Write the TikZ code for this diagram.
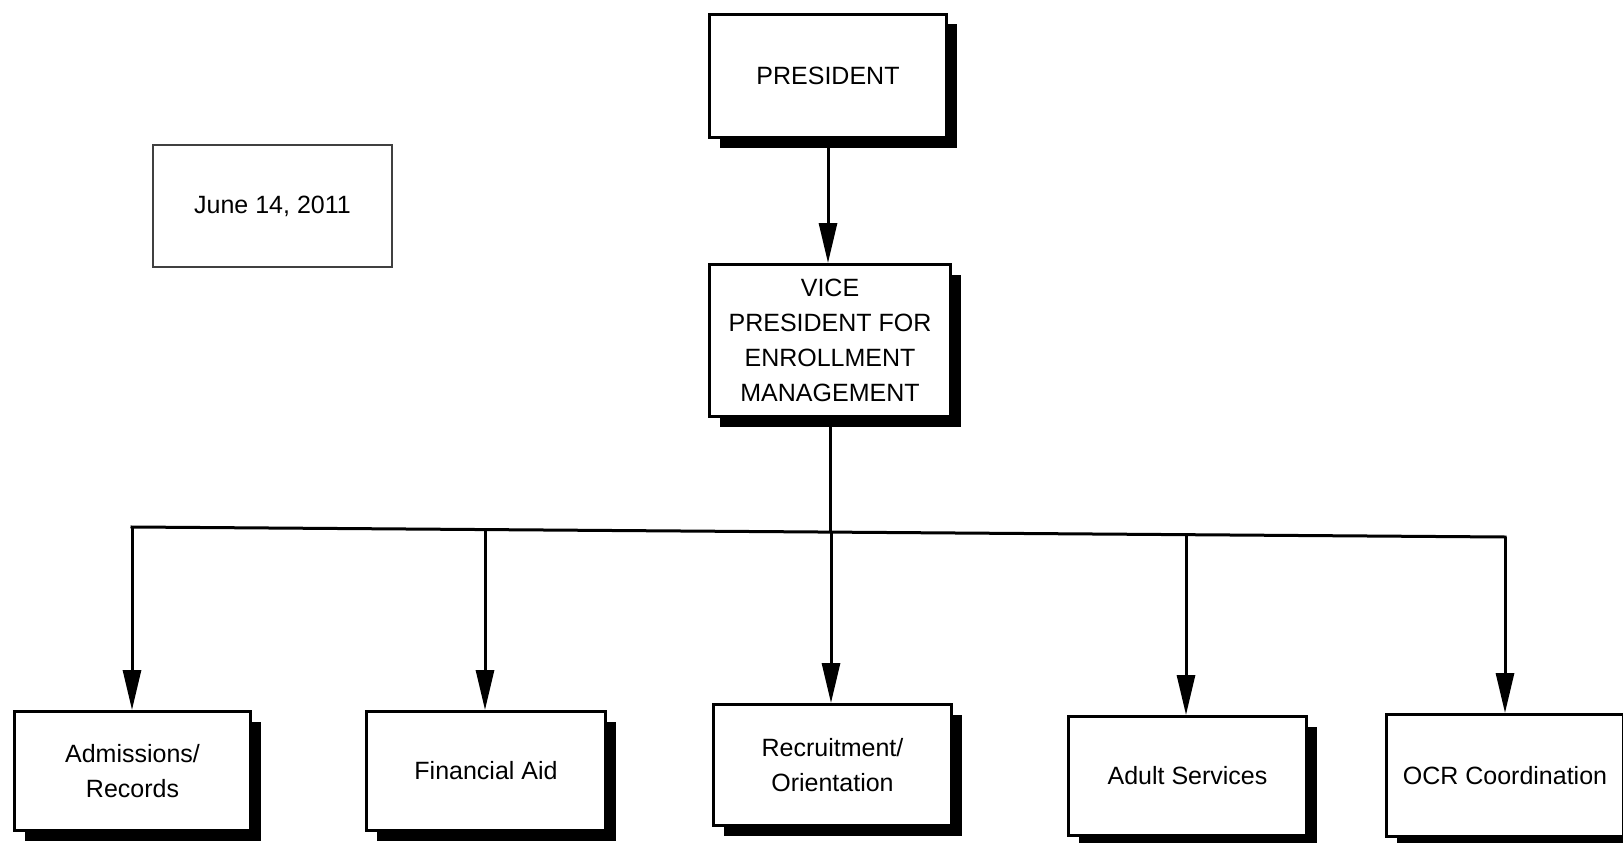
\documentclass[tikz,border=0pt]{standalone}
\usepackage{fontspec}
\setmainfont{Liberation Sans}
\usetikzlibrary{arrows.meta,shadows}
\begin{document}
\begin{tikzpicture}[x=1pt,y=-1pt,
  box/.style={draw=black, line width=3pt, fill=white, rectangle, inner sep=0pt,
    align=center, font=\fontsize{25}{35}\selectfont,
    drop shadow={shadow xshift=10pt, shadow yshift=-10pt, fill=black, opacity=1}},
  datebox/.style={draw=black!75, line width=2pt, fill=white, rectangle, inner sep=0pt,
    align=center, font=\fontsize{25}{35}\selectfont},
  conn/.style={line width=3pt},
  arr/.style={line width=3pt, -{Triangle[length=40pt,width=18pt]}}]
\useasboundingbox (0,0) rectangle (1623,843);
\fill[white] (0,0) rectangle (1623,843);

\node[box, minimum width=237pt, minimum height=123pt] (pres) at (828,76) {PRESIDENT};
\node[datebox, minimum width=239pt, minimum height=122pt] (date) at (272.5,206) {June 14, 2011};
\node[box, minimum width=241pt, minimum height=152pt] (vp) at (830,340.5) {VICE\\PRESIDENT FOR\\ENROLLMENT\\MANAGEMENT};

\node[box, minimum width=236pt, minimum height=119pt] (adm) at (132.5,771) {Admissions/\\Records};
\node[box, minimum width=239pt, minimum height=119pt] (fin) at (486,771) {Financial Aid};
\node[box, minimum width=238pt, minimum height=121pt] (rec) at (832.5,765) {Recruitment/\\Orientation};
\node[box, minimum width=238pt, minimum height=119pt] (adu) at (1187.5,776) {Adult Services};
\node[box, minimum width=237pt, minimum height=122pt] (ocr) at (1505,775.5) {OCR Coordination};

\coordinate (bA) at (132,527);
\coordinate (bF) at (485,529.5);
\coordinate (bV) at (830,532);
\coordinate (bR) at (831,532);
\coordinate (bD) at (1186,534.7);
\coordinate (bO) at (1505,537);

\draw[arr] (pres.south) -- (pres.south |- vp.north);
\draw[conn] (vp.south) -- (bV);
\draw[conn, line cap=rect] (bA) -- (bO);
\draw[arr] (bA) -- (bA |- adm.north);
\draw[arr] (bF) -- (bF |- fin.north);
\draw[arr] (bR) -- (bR |- rec.north);
\draw[arr] (bD) -- (bD |- adu.north);
\draw[arr] (bO) -- (bO |- ocr.north);
\end{tikzpicture}
\end{document}
